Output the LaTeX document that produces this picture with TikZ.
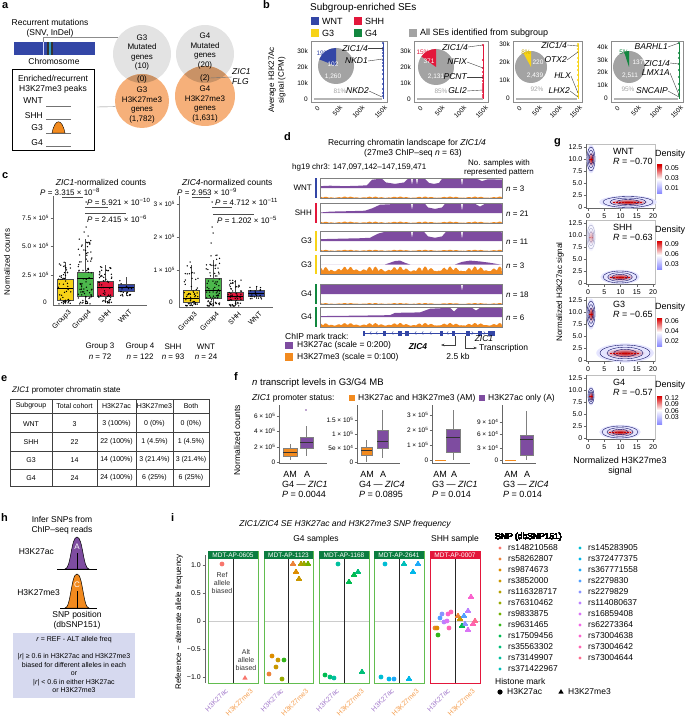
\documentclass[tikz,border=0pt]{standalone}
\usepackage{fontspec}
\setmainfont{Liberation Sans}
\usetikzlibrary{positioning,calc,arrows.meta}

% subgroup / mark colours
\definecolor{wnt}{HTML}{3346A6}
\definecolor{shh}{HTML}{E3173B}
\definecolor{gthree}{HTML}{F7D317}
\definecolor{gfour}{HTML}{12873F}
\definecolor{ac}{HTML}{7E4CA0}
\definecolor{me}{HTML}{F28A1E}
\definecolor{venngrey}{HTML}{E3E3E3}
\definecolor{vennorange}{HTML}{F6B07A}
\definecolor{vennlens}{HTML}{C99266}
\definecolor{piegrey}{HTML}{A3A3A3}
\definecolor{hbox}{HTML}{D6D9EF}
\definecolor{iborder}{HTML}{62BD4F}
\definecolor{ihead}{HTML}{0B7D40}
\definecolor{aclbl}{HTML}{A47CCB}
\definecolor{melbl}{HTML}{F5A154}
% SNP palette
\definecolor{snp1}{HTML}{F8766D}
\definecolor{snp2}{HTML}{EC8239}
\definecolor{snp3}{HTML}{DD8D00}
\definecolor{snp4}{HTML}{C99800}
\definecolor{snp5}{HTML}{B4A000}
\definecolor{snp6}{HTML}{97A900}
\definecolor{snp7}{HTML}{72B000}
\definecolor{snp8}{HTML}{35B51A}
\definecolor{snp9}{HTML}{00BB50}
\definecolor{snp10}{HTML}{00BF78}
\definecolor{snp11}{HTML}{00C09E}
\definecolor{snp12}{HTML}{00BFBA}
\definecolor{snp13}{HTML}{00BDD4}
\definecolor{snp14}{HTML}{00B7E9}
\definecolor{snp15}{HTML}{1DAAF9}
\definecolor{snp16}{HTML}{52A0FF}
\definecolor{snp17}{HTML}{8994FF}
\definecolor{snp18}{HTML}{BB80FF}
\definecolor{snp19}{HTML}{DA74F5}
\definecolor{snp20}{HTML}{F266E6}
\definecolor{snp21}{HTML}{FA63CE}
\definecolor{snp22}{HTML}{FF64B3}
\definecolor{snp23}{HTML}{FD6C8F}

\newcommand{\pval}[2]{\textit{P} = #1 × 10\textsuperscript{#2}}
\newcommand{\sci}[2]{#1 × 10\textsuperscript{#2}}
% purple signal: top, baseline, x/h list
\newcommand{\acsig}[3]{\fill[ac] (320,#2) \foreach \x/\h in {#3} { -- (\x,{#2-\h*(#2-#1-0.8)}) } -- (502,#2) -- cycle;}
% orange signal: baseline top, bottom, base, spikes
\newcommand{\mesig}[4]{\fill[me] (320,#2) \foreach \x in {320,321.5,...,502} { -- (\x,{#2-(#2-#1-1)*(#3+#4*abs(sin(\x*29))*abs(sin(\x*7)))}) } -- (502,#2) -- cycle;}
\newcommand{\tri}[3]{\fill[#1] (#2,#3) ++(0,-2.9) -- ++(2.7,4.5) -- ++(-5.4,0) -- cycle;}
\newcommand{\dotc}[3]{\fill[#1] (#2,#3) circle (2.4);}

\tikzset{
  txt/.style={font=\fontsize{8}{9.6}\selectfont, inner sep=0pt},
  bigtxt/.style={font=\fontsize{9}{10.5}\selectfont, inner sep=0pt},
  ticklbl/.style={font=\fontsize{6.5}{7}\selectfont, inner sep=0pt},
  gtick/.style={font=\fontsize{7}{8}\selectfont, inner sep=0pt},
  tabtxt/.style={font=\fontsize{7}{8}\selectfont, inner sep=0pt},
  panel/.style={font=\fontsize{11}{11}\selectfont\bfseries, inner sep=0pt, anchor=north west},
  gene/.style={font=\fontsize{8.5}{10}\selectfont\itshape, inner sep=0pt, anchor=east},
  frame/.style={draw=black!45, line width=0.5pt},
  leader/.style={draw=black!75, line width=0.4pt},
  venn/.style={circle, inner sep=0pt},
}

\begin{document}
\begin{tikzpicture}[x=1pt,y=-1pt]
\useasboundingbox (0,0) rectangle (685,722);

%% ================= a =================
\node[panel] (pa) at (2,2.5) {a};
\node[txt,font=\fontsize{8.5}{10}\selectfont,align=center] (mut) at (50,28) {Recurrent mutations\\(SNV, InDel)};
% Chromosome
\fill[wnt] (14,42) rectangle (95,55);
\fill[black!80] (47,42) rectangle (53,55);
\fill[cyan!55!teal] (48.6,42) rectangle (51.4,55);
\draw[blue!15, line width=0.9pt] (43,42) -- (43,55);
\coordinate (snp) at (43,42);
\node[txt,font=\fontsize{8.5}{10}\selectfont] (chrom) at (54,61.5) {Chromosome};
% Peak box
\draw[line width=0.6pt] (12,69) rectangle (94,150);
\node[txt,font=\fontsize{8.5}{10}\selectfont,align=center] (enr) at (53,84) {Enriched/recurrent\\H3K27me3 peaks};
\foreach \g/\ty/\ly in {WNT/101/106,SHH/116/119,G3/128/133,G4/143/146}{
  \node[txt,font=\fontsize{8.5}{10}\selectfont,anchor=east] (pk\g) at (43,\ty) {\g};
  \draw[black!55] (46,\ly) -- (71,\ly);
}
\filldraw[fill=me, draw=black, line width=0.4pt] (52,133) .. controls (55,118) and (62,118) .. (65,133) -- cycle;
% Venn circles
\node[venn, fill=venngrey, minimum size=58pt] (g3mut) at (142,54) {};
\node[venn, fill=venngrey, minimum size=58pt] (g4mut) at (205,54) {};
\node[venn, fill=vennorange, minimum size=54pt] (g3me) at (142,101) {};
\node[venn, fill=vennorange, minimum size=60pt] (g4me) at (205,96) {};
\begin{scope}
  \clip (142,54) circle (29);
  \fill[vennlens] (142,101) circle (27);
\end{scope}
\begin{scope}
  \clip (205,54) circle (29);
  \fill[vennlens] (205,96) circle (30);
\end{scope}
\node[txt,align=center] (g3mt) at (142,52.5) {G3\\Mutated\\genes\\(10)};
\node[txt] (g3ov) at (142,79) {(0)};
\node[txt,align=center] (g3mt2) at (142,105) {G3\\H3K27me3\\genes\\(1,782)};
\node[txt,align=center] (g4mt) at (205,51) {G4\\Mutated\\genes\\(20)};
\node[txt] (g4ov) at (205,78) {(2)};
\node[txt,align=center] (g4mt2) at (205,104) {G4\\H3K27me3\\genes\\(1,631)};
\node[txt,font=\fontsize{8.5}{10}\selectfont\itshape,align=left,anchor=west] (zicflg) at (232,77) {ZIC1\\FLG};
% Connectors
\draw[black!45] (snp) |- (g3mut.144);
\draw[black!45] (97,107) -- (g3me.192);
\draw[black!55] (g4ov.east) -- (zicflg.west);

%% ================= b =================
\node[panel] (pb) at (263,0.5) {b};
\node[txt,font=\fontsize{10}{11}\selectfont,anchor=west] (sgt) at (310,8) {Subgroup-enriched SEs};
\foreach \c/\n/\x/\y in {wnt/WNT/311/21,shh/SHH/354/21,gthree/G3/311/33,gfour/G4/354/33}{
  \fill[\c] (\x,\y-3.7) rectangle ++(7.5,7.4);
  \node[bigtxt,anchor=west] (lg\n) at (\x+11,\y) {\n};
}
\fill[piegrey] (409,29.3) rectangle ++(7.5,7.4);
\node[bigtxt,anchor=west] (lgall) at (420,33) {All SEs identified from subgroup};
\node[txt,rotate=90,align=center] (bylab) at (277,80) {Average H3K27Ac\\signal (CPM)};
% Plot frames
\foreach \L/\R in {311/387,414/488,513/582,611/683}{
  \draw[frame] (\L,41) rectangle (\R,102);
  \draw[piegrey!80, line width=1.6pt] (\L+3,99) -- (\R-5,99);
  \foreach \i/\t in {0/0,1/50k,2/100k,3/150k}
    \node[ticklbl,rotate=45,anchor=north east] at ({\L+4+\i*(\R-\L-9)/3+2},105) {\t};
}
\foreach \y/\t in {99/0,83/10k,67/20k,51/30k}{
  \node[ticklbl,anchor=east] at (308,\y) {\t};
  \node[ticklbl,anchor=east] at (411,\y) {\t};
}
\foreach \y/\t in {98/0,80/10k,62/20k,44/30k} \node[ticklbl,anchor=east] at (510,\y) {\t};
\foreach \y/\t in {98/0,85/10k,72/20k,60/30k,47/40k} \node[ticklbl,anchor=east] at (608,\y) {\t};
% Pies
\fill[piegrey] (336,66) circle (18);
\fill[wnt] (336,66) -- ++(-90:18) arc[start angle=-90,end angle=-158.4,radius=18] -- cycle;
\node[ticklbl,text=wnt] at (323,53) {19\%};
\node[ticklbl,text=white] at (333,64) {102};
\node[ticklbl,text=white] at (333,77) {1,260};
\node[ticklbl,text=piegrey] at (340,91) {81\%};
\fill[piegrey] (436,67) circle (18);
\fill[shh] (436,67) -- ++(-90:18) arc[start angle=-90,end angle=-144,radius=18] -- cycle;
\node[ticklbl,text=shh] at (423,52) {15\%};
\node[ticklbl,text=white] at (429,61) {371};
\node[ticklbl,text=white] at (436,77) {2,131};
\node[ticklbl,text=piegrey] at (441,91) {85\%};
\fill[piegrey] (531,67) circle (16);
\fill[gthree] (531,67) -- ++(-90:16) arc[start angle=-90,end angle=-118.8,radius=16] -- cycle;
\node[ticklbl,text=gthree!80!black] at (526,52) {8\%};
\node[ticklbl,text=white] at (538,62) {220};
\node[ticklbl,text=white] at (535,76) {2,439};
\node[ticklbl,text=piegrey] at (537,89) {92\%};
\fill[piegrey] (629,67) circle (16);
\fill[gfour] (629,67) -- ++(-90:16) arc[start angle=-90,end angle=-108,radius=16] -- cycle;
\node[ticklbl,text=gfour] at (624,52) {5\%};
\node[ticklbl,text=white] at (638,62) {137};
\node[ticklbl,text=white] at (630,76) {2,511};
\node[ticklbl,text=piegrey] at (628,89) {95\%};
% SE ranks
\draw[wnt, line width=0.9pt] (383,99) -- (383,43);
\foreach \y in {43,48,50,53,56,60,63,66,70,74,79,84,89,93,96} \fill[wnt] (383,\y) circle (1.1);
\draw[shh, line width=0.9pt] (483,99) -- (483,45);
\foreach \y in {45,60,68,72,76,78,81,84,86,88,90,92,95,97} \fill[shh] (483,\y) circle (1.1);
\draw[gthree, line width=0.9pt] (578,99) -- (578,44);
\foreach \y in {44,46,49,52,58,62,66,70,75,80,86,92,96} \fill[gthree] (578,\y) circle (1.1);
\draw[gfour, line width=0.9pt] (679,99) -- (679,43);
\foreach \y in {43,53,58,64,70,77,84,90,95} \fill[gfour] (679,\y) circle (1.1);
% Gene labels
\node[gene] (b1a) at (368,48) {ZIC1/4};
\node[gene] (b1b) at (368,61) {NKD1};
\node[gene] (b1c) at (369,91) {NKD2};
\draw[leader] (b1a.east) -- (383,48);
\draw[leader] (b1b.east) -- (383,59);
\draw[leader] (b1c.east) -- (382,97);
\node[gene] (b2a) at (468,47) {ZIC1/4};
\node[gene] (b2b) at (467,62) {NFIX};
\node[gene] (b2c) at (467,77) {PCNT};
\node[gene] (b2d) at (467,91) {GLI2};
\draw[leader] (b2a.east) -- (483,45);
\draw[leader] (b2b.east) -- (483,68);
\draw[leader] (b2c.east) -- (483,77);
\draw[leader] (b2d.east) -- (483,90);
\node[gene] (b3a) at (567,45) {ZIC1/4};
\node[gene] (b3b) at (567,60) {OTX2};
\node[gene] (b3c) at (571,76) {HLX};
\node[gene] (b3d) at (570,91) {LHX2};
\draw[leader] (b3a.east) -- (578,46);
\draw[leader] (b3b.east) -- (578,52);
\draw[leader] (b3c.east) -- (578,93);
\draw[leader] (b3d.east) -- (578,97);
\node[gene] (b4a) at (668,47) {BARHL1};
\node[gene] (b4b) at (670,63) {ZIC1/4};
\node[gene] (b4c) at (670,73) {LMX1A};
\node[gene] (b4d) at (668,91) {SNCAIP};
\draw[leader] (b4a.east) -- (679,43);
\draw[leader] (b4b.east) -- (679,64);
\draw[leader] (b4c.east) -- (679,95);
\draw[leader] (b4d.east) -- (679,97);

%% ================= c =================
\node[panel] (pc) at (2,172) {c};
\node[txt,font=\fontsize{8.5}{10}\selectfont] (ct1) at (101,182) {\textit{ZIC1}-normalized counts};
\node[txt,font=\fontsize{8.5}{10}\selectfont,anchor=west] (ct2) at (182,182) {\textit{ZIC4}-normalized counts};
\node[txt,rotate=90] (cylab) at (7,262) {Normalized counts};
% Axes
\draw[black!60] (53,196) -- (53,305) -- (147,305);
\foreach \y/\t in {275/2.5,246/5.0,218/7.5}{
  \draw[black!60] (50.5,\y) -- (53,\y);
  \node[ticklbl,anchor=east] at (49,\y) {\sci{\t}{5}};
}
\node[ticklbl,anchor=east] at (47,302) {0};
\draw[black!60] (179,196) -- (179,307) -- (273,307);
\foreach \y/\t in {270/1,237/2,204/3}{
  \draw[black!60] (176.5,\y) -- (179,\y);
  \node[ticklbl,anchor=east] at (175,\y) {\sci{\t}{5}};
}
\node[ticklbl,anchor=east] at (173,302) {0};
% Boxes
\foreach \c/\col/\bt/\bb/\md/\wt/\wb in {65/gthree/279/300/288/262/304,85/green!60!black!70!white/272/296/278/239/304,105/shh/281/296/287/265/303,126/wnt/284/291/287/277/296,
  191/gthree/290/302/298/265/306,213/green!60!black!70!white/278/298/290/260/306,235/shh/292/300/296/280/306,256/wnt/290/296/293/286/299}{
  \draw[black!70] (\c,\wt) -- (\c,\wb);
  \filldraw[fill=\col, draw=black!70, line width=0.4pt] (\c-8,\bt) rectangle (\c+8,\bb);
  \draw[black, line width=0.6pt] (\c-8,\md) -- (\c+8,\md);
}
% Points
\pgfmathsetseed{7}
\foreach \c/\bb/\wt/\n in {65/304/262/55,85/304/239/80,105/303/265/60,126/296/277/20,191/306/265/55,213/306/255/80,235/306/280/60,256/299/286/20}{
  \foreach \k in {1,...,\n}{
    \pgfmathsetmacro\px{\c+7*rand}
    \pgfmathsetmacro\py{\bb-(\bb-\wt)*pow(rnd,1.6)}
    \fill (\px,\py) circle (0.75);
  }
}
\foreach \x/\y in {86/227,84/232,88/236,82/245,86/202,190/262,212/227,213/233,211/243,212/202}{\fill (\x,\y) circle (0.75);}
% Brackets
\node[txt,anchor=west] (cp1) at (40,192) {\pval{3.315}{−8}};
\draw[black!70] (62,197) -- (83,197);
\node[txt,anchor=west] (cp2) at (87,202) {\pval{5.921}{−10}};
\draw[black!70] (85,207) -- (108,207);
\draw[black!70] (85,213) -- (126,213);
\node[txt,anchor=west] (cp3) at (87,219) {\pval{2.415}{−6}};
\node[txt,anchor=west] (cp4) at (177,192) {\pval{2.953}{−9}};
\draw[black!70] (192,197) -- (210,197);
\node[txt,anchor=west] (cp5) at (215,202) {\pval{4.712}{−11}};
\draw[black!70] (212,207) -- (232,207);
\draw[black!70] (213,214) -- (254,214);
\node[txt,anchor=west] (cp6) at (217,220) {\pval{1.202}{−5}};
% Group labels
\foreach \c/\t in {65/Group3,85/Group4,105/SHH,126/WNT}
  \node[ticklbl,font=\fontsize{7}{8}\selectfont,rotate=45,anchor=north east] at (\c+3,309) {\t};
\foreach \c/\t in {191/Group3,213/Group4,235/SHH,256/WNT}
  \node[ticklbl,font=\fontsize{7}{8}\selectfont,rotate=45,anchor=north east] at (\c+3,311) {\t};
\foreach \x/\g/\n in {100/Group 3/72,140/Group 4/122,173/SHH/93,206/WNT/24}{
  \node[txt] at (\x,347) {\g};
  \node[txt] at (\x,357) {\textit{n} = \n};
}

%% ================= d =================
\node[panel] (pd) at (284,132) {d};
\node[txt,font=\fontsize{8.5}{10}\selectfont] (dt1) at (407,143) {Recurring chromatin landscape for \textit{ZIC1/4}};
\node[txt,font=\fontsize{8.5}{10}\selectfont] (dt2) at (413,153) {(27me3 ChIP–seq \textit{n} = 63)};
\node[txt,anchor=west] (dloc) at (292,167) {hg19 chr3: 147,097,142–147,159,471};
\node[txt,align=center] (dns) at (499,168) {No. samples with\\represented pattern};
% Tracks
\foreach \t/\b/\c/\l/\n in {178/198/wnt/WNT/3,203/223/shh/SHH/21,231/251/gthree/G3/11,255/274/gthree/G3/3,284/304/gfour/G4/18,307/327/gfour/G4/6}{
  \fill[\c] (314.5,\t) rectangle (317,\b);
  \node[txt,anchor=east] at (312,{(\t+\b)/2}) {\l};
  \node[txt,anchor=west] at (506,{(\t+\b)/2+1}) {\textit{n} = \n};
}
\acsig{178}{188}{320/.2,330/.25,345/.2,360/.25,367/.3,372/.9,380/1,382/1,386/.6,395/.45,404/.6,408/1,411/1,412/.3,413/1,416/1,417/.3,418/1,425/1,429/.55,434/.45,439/.55,442/1,461/1,462/.2,463/1,478/.95,482/.75,488/.95,502/.9}
\mesig{188}{198}{0.02}{0.14}
\acsig{203}{213}{320/.05,330/.15,350/.2,365/.25,372/.5,380/.9,400/1,411/1,412/.3,413/1,425/1,428/.6,435/.45,442/.6,445/1,461/1,462/.2,463/1,475/1,480/.7,485/1,502/.95}
\mesig{213}{223}{0.02}{0.14}
\acsig{231}{241}{320/.2,340/.25,360/.3,370/.35,378/.8,385/1,411/1,412/.3,413/1,424/1,428/.5,435/.35,442/.5,446/1,461/1,462/.2,463/1,502/.95}
\mesig{241}{251}{0.02}{0.12}
\acsig{255}{264.5}{320/0,385/0,390/.2,395/.4,400/.45,405/.2,410/0,455/0,462/.3,470/.45,480/.35,490/.2,500/0,502/0}
\mesig{264.5}{274}{0.3}{0.6}
\acsig{284}{294}{320/1,461/1,462/.3,463/1,502/1}
\mesig{294}{304}{0.01}{0.1}
\acsig{307}{317}{320/.1,360/.15,390/.2,395/.45,420/.5,430/.9,450/1,454/.6,458/1,472/1,476/.7,480/1,502/.95}
\mesig{317}{327}{0.15}{0.3}
\foreach \t/\b in {178/198,203/223,231/251,255/274,284/304,307/327}
  \draw[black!50, line width=0.4pt] (320,\t) rectangle (502,\b);
% Gene models
\draw[wnt, line width=0.6pt] (363,333) -- (495,333);
\foreach \a/\b in {363/365,383/386,398/402,405/409,440/443,452/455,466/470,478/482,488/495}
  \fill[wnt] (\a,330.5) rectangle (\b,335.5);
\foreach \x in {370,376,392,415,422,430,447}
  \draw[wnt, line width=0.4pt] (\x+1.3,331.3) -- (\x,333) -- (\x+1.3,334.7);
\foreach \x in {473,485}
  \draw[wnt, line width=0.4pt] (\x-1.3,331.3) -- (\x,333) -- (\x-1.3,334.7);
\node[txt,font=\fontsize{8.5}{10}\selectfont\bfseries\itshape] (zicf) at (418,347) {ZIC4};
\node[txt,font=\fontsize{8.5}{10}\selectfont\itshape] (zice) at (484,339) {ZIC1};
\coordinate (tss4) at (455,336);
\coordinate (tss1) at (465,336);
\draw[black!75, -{Stealth[length=3.5pt]}] (tss4) -- ++(0,9) -- ++(-14,0);
\draw[black!75, -{Stealth[length=3.5pt]}] (tss1) -- ++(0,12) -- ++(12,0);
\node[txt,font=\fontsize{8.5}{10}\selectfont,anchor=west] (trs) at (479,348) {Transcription};
\node[txt,font=\fontsize{8.5}{10}\selectfont] (kb) at (458,356) {2.5 kb};
% Mark legend
\node[txt,font=\fontsize{8.5}{10}\selectfont,anchor=west] (dleg) at (285,336) {ChIP mark track:};
\fill[ac] (285,341.5) rectangle ++(8,7.5);
\node[txt,font=\fontsize{8.5}{10}\selectfont,anchor=west] (dlac) at (297,345) {H3K27ac (scale = 0:200)};
\fill[me] (285,353) rectangle ++(8,7.5);
\node[txt,font=\fontsize{8.5}{10}\selectfont,anchor=west] (dlme) at (297,357) {H3K27me3 (scale = 0:100)};

%% ================= g =================
\node[panel] (pg) at (554,138) {g};
\foreach \yb/\nm/\rr in {207/WNT/0.70,283/SHH/0.63,360/G3/0.65,438/G4/0.57}{
  \draw[black!25] (586,\yb-63) rectangle (655,\yb+1);
  \draw[black!60] (586,\yb-63) -- (586,\yb+1) -- (655,\yb+1);
  \foreach \v/\t in {0/0,2.5/2.5,5/5.0,7.5/7.5,10/10.0,12.5/12.5}{
    \draw[black!60] (583.5,{\yb-\v*4.8}) -- (586,{\yb-\v*4.8});
    \node[gtick,anchor=east] at (582.5,{\yb-\v*4.8}) {\t};
  }
  \foreach \v in {0,5,10,15,20}{
    \draw[black!60] ({588+\v*3.25},\yb+1) -- ({588+\v*3.25},\yb+3.5);
    \node[gtick] at ({588+\v*3.25},\yb+9) {\v};
  }
  \node[bigtxt,anchor=west] at (613,\yb-56) {\nm};
  \node[bigtxt,anchor=west] at (613,\yb-46) {\textit{R} = −\rr};
  \node[bigtxt,anchor=west] at (655,\yb-53) {Density};
  \shade[top color=red!85!black, bottom color=blue!45, middle color=white] (657,\yb-42) rectangle (662,\yb-14);
}
\foreach \yb/\a/\b/\c in {207/0.05/0.03/0.01,283/0.09/0.06/0.03,360/0.06/0.04/0.02}{
  \node[gtick,anchor=west] at (665,\yb-39) {\a};
  \node[gtick,anchor=west] at (665,\yb-29) {\b};
  \node[gtick,anchor=west] at (665,\yb-19) {\c};
}
\foreach \y/\t in {398/0.12,404/0.09,411/0.06,417/0.03} \node[gtick,anchor=west] at (665,\y) {\t};
% Density blobs
\foreach \cx/\cy/\rx/\ry/\op in {591/159/4/12/1,628/202/25/5.5/1,591/237/4/12/0.35,620/277/17/6/1,591/314/4/13/1,625/353/25/8/1,591/396/3/8/1,620/432/18/6/1}{
  \fill[blue!10, opacity=\op] (\cx,\cy) ellipse ({\rx*1.15} and {\ry*1.2});
  \shade[inner color=red!75!black, outer color=blue!10, opacity=\op] (\cx,\cy) ellipse ({\rx*0.8} and {\ry*0.6});
  \foreach \s in {1,0.72,0.45}
    \draw[blue!35!black, line width=0.35pt, opacity=\op] (\cx,\cy) ellipse ({\s*\rx} and {\s*\ry});
  \draw[red!80!black, line width=0.6pt, dash pattern=on 2pt off 1pt, opacity=\op] (\cx-0.6*\rx,\cy) -- (\cx+0.6*\rx,\cy);
}
\node[txt,rotate=90] (gylab) at (560,292) {Normalized H3K27ac signal};
\node[bigtxt,align=center] (gxlab) at (620,466) {Normalized H3K27me3\\signal};

%% ================= e =================
\node[panel] (pe) at (1,375) {e};
\node[txt,font=\fontsize{8}{10}\selectfont,anchor=west] (et) at (12,390) {\textit{ZIC1} promoter chromatin state};
\draw[black!75, line width=0.6pt] (10,399) rectangle (209,486);
\foreach \y in {413,432,451,469} \draw[black!75, line width=0.5pt] (10,\y) -- (209,\y);
\foreach \x in {52,97,136,173} \draw[black!75, line width=0.5pt] (\x,399) -- (\x,486);
\foreach \y/\a/\b/\c/\d/\e in {406/Subgroup/Total cohort/H3K27ac/H3K27me3/Both,424/WNT/3/3 (100\%)/0 (0\%)/0 (0\%),442/SHH/22/22 (100\%)/1 (4.5\%)/1 (4.5\%),460/G3/14/14 (100\%)/3 (21.4\%)/3 (21.4\%),478/G4/24/24 (100\%)/6 (25\%)/6 (25\%)}{
  \node[tabtxt] at (31,\y) {\a};
  \node[tabtxt] at (74.5,\y) {\b};
  \node[tabtxt] at (116.5,\y) {\c};
  \node[tabtxt] at (154.5,\y) {\d};
  \node[tabtxt] at (191,\y) {\e};
}

%% ================= f =================
\node[panel] (pf) at (234,372) {f};
\node[bigtxt,font=\fontsize{9.5}{11}\selectfont,anchor=west] (ft) at (252,383) {\textit{n} transcript levels in G3/G4 MB};
\node[bigtxt,font=\fontsize{8.5}{10}\selectfont,anchor=west] (fst) at (252,398) {\textit{ZIC1} promoter status:};
\fill[me] (349,395) rectangle ++(6,6);
\node[bigtxt,font=\fontsize{8.5}{10}\selectfont,anchor=west] (fam) at (358,398) {H3K27ac and H3K27me3 (AM)};
\fill[ac] (479,395) rectangle ++(6,6);
\node[bigtxt,font=\fontsize{8.5}{10}\selectfont,anchor=west] (fa) at (488,398) {H3K27ac only (A)};
\node[txt,font=\fontsize{8.5}{10}\selectfont,rotate=90] (fylab) at (237,440) {Normalized counts};
% Axes
\foreach \ax/\ex in {279/327,357/400,432/470,502/536}
  \draw[black!60] (\ax,405) -- (\ax,463) -- (\ex,463);
\foreach \ax/\y/\t in {279/416/\sci{6}{5},279/431/\sci{4}{5},279/447/\sci{2}{5},279/462/0,357/420/\sci{1.5}{5},357/434/\sci{1}{5},357/448/\sci{5e}{4},357/462/0,432/415/\sci{3}{5},432/430/\sci{2}{5},432/445/\sci{1}{5},432/460/0,502/422/\sci{9}{4},502/434/\sci{6}{4},502/448/\sci{3}{4},502/460/0}{
  \draw[black!60] (\ax-2.5,\y) -- (\ax,\y);
  \node[ticklbl,anchor=east] at (\ax-3.5,\y) {\t};
}
% Boxes
\foreach \col/\l/\r/\bt/\bb/\md/\wt/\wb in {me/283/297/448/456/452/444/460,ac/300/313/437/448/442/426/456,me/361/372/447/455/450/440/462,ac/377/388/430/448/441/410/458,ac/446/460/429/452/437/410/460,ac/520/533/435/455/439/411/460}{
  \draw[black!50] ({(\l+\r)/2},\wt) -- ({(\l+\r)/2},\wb);
  \filldraw[fill=\col, draw=black!50, line width=0.4pt] (\l,\bt) rectangle (\r,\bb);
  \draw[black!80, line width=0.7pt] (\l,\md) -- (\r,\md);
}
\draw[me, line width=0.9pt] (435,460) -- (446,460);
\draw[me, line width=0.9pt] (505,460) -- (516,460);
\fill[ac] (306,410) circle (0.8);
\foreach \a/\b/\g/\p in {290/307/G4 — \textit{ZIC1}/0.0044,367/383/G4 — \textit{ZIC4}/0.0895,440/454/G3 — \textit{ZIC1}/0.014,511/527/G3 — \textit{ZIC4}/0.014}{
  \node[bigtxt] at (\a,474) {AM};
  \node[bigtxt] at (\b,474) {A};
  \node[bigtxt,anchor=west] at (\a-8,484) {\g};
  \node[bigtxt,anchor=west] at (\a-8,494) {\textit{P} = \p};
}

%% ================= h =================
\node[panel] (ph) at (1,513) {h};
\node[txt,font=\fontsize{8.5}{10}\selectfont,align=center] (hinf) at (62,525) {Infer SNPs from\\ChIP–seq reads};
\node[txt,font=\fontsize{8.5}{10}\selectfont,anchor=east] (hac) at (54,552) {H3K27ac};
\filldraw[fill=ac, draw=black, line width=0.5pt] (65,569) .. controls (71,569) and (71,537) .. (77,537) .. controls (83,537) and (83,569) .. (89,569) -- cycle;
\draw[black, line width=0.6pt] (57,569) -- (97,569) (77,553) -- (77,569);
\node[txt,text=white] (ha) at (77,547) {A};
\node[txt,font=\fontsize{8.5}{10}\selectfont,anchor=east] (hme) at (60,593) {H3K27me3};
\filldraw[fill=me, draw=black, line width=0.5pt] (65,608) .. controls (71,608) and (71,574) .. (77,574) .. controls (83,574) and (83,608) .. (89,608) -- cycle;
\draw[black, line width=0.6pt] (60,608) -- (97,608) (77,591) -- (77,608);
\node[txt,text=white] (hc) at (77,585) {C};
\node[txt,font=\fontsize{8.5}{10}\selectfont,align=center] (hsnp) at (77,620) {SNP position\\(dbSNP151)};
\fill[hbox] (13,633) rectangle (135,698);
\node[tabtxt] (hr) at (74,640) {\textit{r} = REF - ALT allele freq};
\node[tabtxt,align=center,font=\fontsize{7}{8.5}\selectfont] (hrule) at (74,673) {|\textit{r}| ≥ 0.6 in H3K27ac and H3K27me3\\biased for different alleles in each\\or\\|\textit{r}| < 0.6 in either H3K27ac\\or H3K27me3};

%% ================= i =================
\node[panel] (pi) at (171,513) {i};
\node[txt,font=\fontsize{8.5}{10}\selectfont\itshape] (it) at (345,524) {ZIC1/ZIC4 SE H3K27ac and H3K27me3 SNP frequency};
\node[txt,font=\fontsize{8.5}{10}\selectfont] (ig4) at (316,539) {G4 samples};
\node[txt,font=\fontsize{8.5}{10}\selectfont] (ishh) at (455,539) {SHH sample};
\node[txt,rotate=90] (iylab) at (179,622) {Reference − alternate allele frequency};
\draw[black!60] (205,555) -- (205,683);
\foreach \v/\t in {1.0/1.0,0.5/0.5,0/0,-0.5/−0.5,-1/−1.0}{
  \draw[black!60] (202.5,{621-56*\v}) -- (205,{621-56*\v});
  \node[gtick,anchor=east] at (201,{621-56*\v}) {\t};
}
\foreach \L/\R/\hc/\bc/\nm in {208/258/ihead/iborder/MDT-AP-0605,264/313/ihead/iborder/MDT-AP-1123,319/369/ihead/iborder/MDT-AP-1168,374/424/ihead/iborder/MDT-AP-2641,430/480/shh/shh/MDT-AP-0007}{
  \draw[black!20, line width=0.6pt] (\L,621) -- (\R,621);
  \draw[black!85, line width=0.8pt] ({(\L+\R)/2},558) -- ({(\L+\R)/2},683);
  \draw[\bc, line width=1pt] (\L,551) rectangle (\R,683);
  \fill[\hc] (\L,551) rectangle (\R,558.5);
  \node[font=\fontsize{6.5}{7}\selectfont, text=white, inner sep=0pt] at ({(\L+\R)/2},554.8) {\nm};
  \node[gtick,rotate=45,anchor=north east,text=aclbl] at ({(\L+\R)/2-8},688) {H3K27ac};
  \node[gtick,rotate=45,anchor=north east,text=melbl] at ({(\L+\R)/2+17},688) {H3K27me3};
}
\node[tabtxt,align=center,text=black!80] (iref) at (222,583) {Ref\\allele\\biased};
\node[tabtxt,align=center,text=black!80] (ialt) at (246,660) {Alt\\allele\\biased};
% SNP points
\dotc{snp1}{222}{564}
\tri{snp1}{245}{678}
\foreach \c/\x/\y in {snp3/272/656,snp4/278/660,snp8/284/660,snp4/276/667,snp2/269/674,snp6/282/679,snp9/325/675,snp10/330/677,snp11/334/678,snp11/338/564,snp13/381/677,snp14/389/679,snp15/394/679,snp13/385/564,
  snp2/435/628,snp3/437/628,snp8/438/635,snp16/440/618,snp17/442/614,snp18/444/622,snp19/447/621,snp21/448/614,snp22/451/612,snp22/449/628}
  \dotc{\c}{\x}{\y}
\foreach \c/\x/\y in {snp2/293/564,snp5/301/564,snp6/304/564,snp7/308/564,snp3/296/572,snp4/299/579,snp9/349/582,snp9/354/575,snp10/358/572,snp10/362/672,snp14/409/679,snp12/404/564,snp15/418/564,snp14/413/572,
  snp2/458/616,snp4/460/619,snp9/462/626,snp16/464/616,snp17/465/624,snp18/468/611,snp19/468/630,snp21/471/597,snp22/473/624,snp23/475/621}
  \tri{\c}{\x}{\y}
% Legend
\node[txt,font=\fontsize{8.5}{10}\selectfont,anchor=west] (isnp) at (495,537) {SNP (dbSNP151)};
\foreach \i/\r in {1/rs148210568,2/rs58262807,3/rs9874673,4/rs3852000,5/rs116328717,6/rs76310462,7/rs9833875,8/rs9631465,9/rs17509456,10/rs35563302,11/rs73149907,12/rs371422967}{
  \fill[snp\i] (500,{537+11*\i}) circle (1.6);
  \node[txt,font=\fontsize{8.5}{10}\selectfont,anchor=west] at (508,{537+11*\i}) {\r};
}
\foreach \i/\r in {13/rs145283905,14/rs372477375,15/rs367771558,16/rs2279830,17/rs2279829,18/rs114080637,19/rs16859408,20/rs62273364,21/rs73004638,22/rs73004642,23/rs73004644}{
  \fill[snp\i] (580,{537+11*(\i-12)}) circle (1.6);
  \node[txt,font=\fontsize{8.5}{10}\selectfont,anchor=west] at (588,{537+11*(\i-12)}) {\r};
}
\node[txt,font=\fontsize{8.5}{10}\selectfont,anchor=west] (ihm) at (495,681) {Histone mark};
\fill (500,692) circle (2.6);
\node[txt,font=\fontsize{8.5}{10}\selectfont,anchor=west] (ihac) at (507,692) {H3K27ac};
\tri{black}{561}{692}
\node[txt,font=\fontsize{8.5}{10}\selectfont,anchor=west] (ihme) at (568,692) {H3K27me3};
\end{tikzpicture}
\end{document}
